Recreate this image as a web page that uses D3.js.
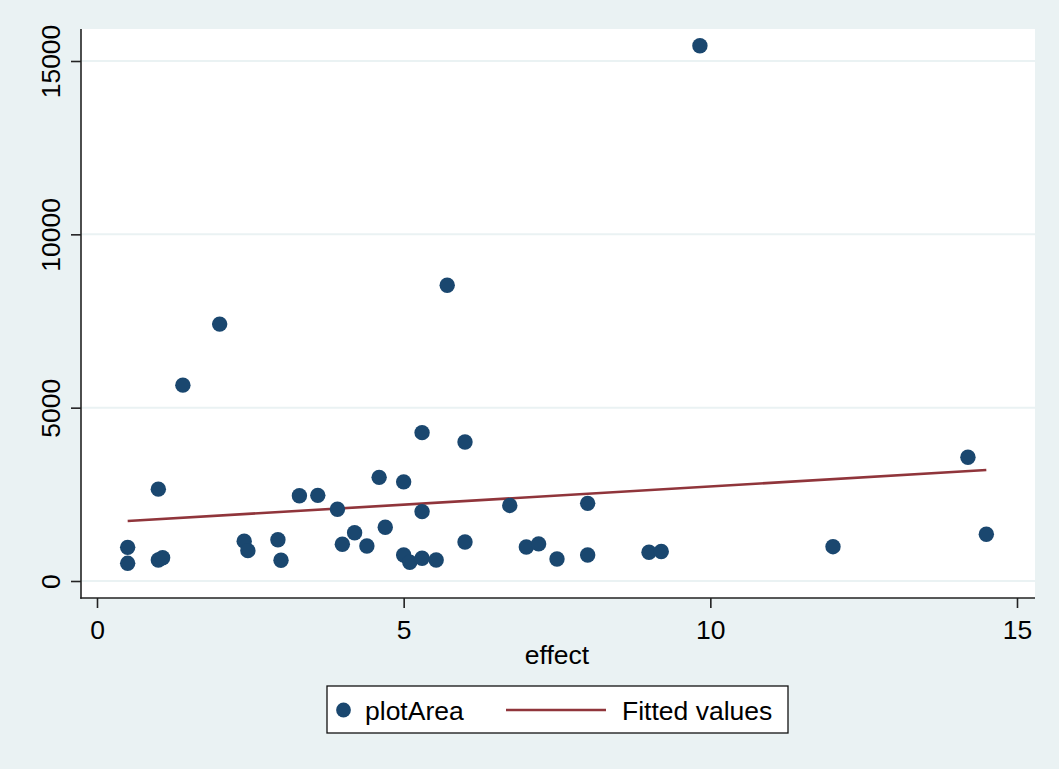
<!DOCTYPE html>
<html>
<head>
<meta charset="utf-8">
<script src="https://cdn.jsdelivr.net/npm/d3@7"></script>
<style>
  html, body { margin: 0; padding: 0; background: #eaf2f3; }
  svg { display: block; }
  text { font-family: "Liberation Sans", Arial, Helvetica, sans-serif; fill: #000; }
</style>
</head>
<body>
<svg id="chart" width="1059" height="769"></svg>
<script>
// ---- Data ----
const effect = [0.5, 0.5, 1.0, 1.0, 1.07, 1.4, 2.0, 2.4, 2.46, 2.95, 3.0, 3.3, 3.6, 3.92, 4.0, 4.2, 4.4,
  4.6, 4.7, 5.0, 5.0, 5.1, 5.3, 5.3, 5.3, 5.53, 5.71, 6.0, 6.0, 6.73, 7.0, 7.2, 7.5, 8.0, 8.0,
  9.0, 9.2, 9.83, 12.0, 14.2, 14.5];
const plotArea = [970, 510, 2650, 605, 670, 5650, 7410, 1150, 875, 1190, 600, 2460, 2470, 2070, 1060, 1390, 1010,
  2990, 1550, 2860, 750, 540, 4280, 2000, 655, 606, 8530, 4010, 1125, 2180, 980, 1070, 635, 2240, 750,
  830, 850, 15440, 990, 3570, 1350];
// Fitted values (linear fit) at the ends of the x range
const fitEffect = [0.5, 14.5];
const fitValues = [1730, 3200];
const xTicks = [0, 5, 10, 15];
const yTicks = [0, 5000, 10000, 15000];
const xTitle = "effect";
const legendLabels = ["plotArea", "Fitted values"];

// ---- Layout ----
const W = 1059, H = 769;
const plot = { left: 81, right: 1035, top: 29, bottom: 598 };
const navy = "#1a476f", maroon = "#90353b", bg = "#eaf2f3";
const fs = 26.5;

const svg = d3.select("#chart");
svg.append("rect").attr("width", W).attr("height", H).attr("fill", bg);

const x = d3.scaleLinear().domain([0, 15]).range([97, 1017]);
const y = d3.scaleLinear().domain([0, 15000]).range([581, 61]);

// plot region
svg.append("rect")
  .attr("x", plot.left).attr("y", plot.top)
  .attr("width", plot.right - plot.left).attr("height", plot.bottom - plot.top)
  .attr("fill", "#fff");

// gridlines
svg.append("g").selectAll("line").data(yTicks).join("line")
  .attr("x1", plot.left).attr("x2", plot.right)
  .attr("y1", d => y(d)).attr("y2", d => y(d))
  .attr("stroke", bg).attr("stroke-width", 2);

// fitted line
svg.append("path")
  .datum(fitEffect.map((d, i) => [d, fitValues[i]]))
  .attr("d", d3.line().x(d => x(d[0])).y(d => y(d[1])))
  .attr("fill", "none").attr("stroke", maroon).attr("stroke-width", 2.6);

// points
svg.append("g").selectAll("circle").data(effect.map((d, i) => [d, plotArea[i]])).join("circle")
  .attr("cx", d => x(d[0])).attr("cy", d => y(d[1])).attr("r", 7.7)
  .attr("fill", navy);

// y axis
const yAxis = d3.axisLeft(y).tickValues(yTicks).tickSize(10).tickPadding(0).tickFormat(d3.format("d"));
const gy = svg.append("g").attr("transform", `translate(${plot.left},0)`).call(yAxis);
gy.select(".domain").remove();
gy.selectAll(".tick line").attr("stroke", "#222").attr("stroke-width", 1.6);
gy.selectAll(".tick text").remove();
gy.selectAll(".tick").append("text")
  .attr("transform", "translate(-21,0) rotate(-90)")
  .attr("text-anchor", "middle")
  .style("font-size", fs + "px")
  .text(d => d3.format("d")(d));
svg.append("line").attr("x1", plot.left).attr("x2", plot.left)
  .attr("y1", plot.top).attr("y2", plot.bottom + 0.8)
  .attr("stroke", "#222").attr("stroke-width", 1.6);

// x axis
const xAxis = d3.axisBottom(x).tickValues(xTicks).tickSize(10).tickPadding(0).tickFormat(d3.format("d"));
const gx = svg.append("g").attr("transform", `translate(0,${plot.bottom})`).call(xAxis);
gx.select(".domain").remove();
gx.selectAll(".tick line").attr("stroke", "#222").attr("stroke-width", 1.6);
gx.selectAll(".tick text").remove();
gx.selectAll(".tick").append("text")
  .attr("y", 41).attr("text-anchor", "middle")
  .style("font-size", fs + "px")
  .text(d => d3.format("d")(d));
svg.append("line").attr("x1", plot.left - 0.8).attr("x2", plot.right)
  .attr("y1", plot.bottom).attr("y2", plot.bottom)
  .attr("stroke", "#222").attr("stroke-width", 1.6);

// x title
svg.append("text").attr("x", x(7.5)).attr("y", 664).attr("text-anchor", "middle")
  .style("font-size", fs + "px").text(xTitle);

// legend
const lg = svg.append("g");
lg.append("rect").attr("x", 327).attr("y", 686).attr("width", 461).attr("height", 47)
  .attr("fill", "#fff").attr("stroke", "#111").attr("stroke-width", 1.3);
lg.append("circle").attr("cx", 343.5).attr("cy", 710).attr("r", 7.4).attr("fill", navy);
lg.append("text").attr("x", 365).attr("y", 719.5).style("font-size", fs + "px").text(legendLabels[0]);
lg.append("line").attr("x1", 506).attr("x2", 606).attr("y1", 710).attr("y2", 710)
  .attr("stroke", maroon).attr("stroke-width", 2.6);
lg.append("text").attr("x", 622).attr("y", 719.5).style("font-size", fs + "px").text(legendLabels[1]);
</script>
</body>
</html>
